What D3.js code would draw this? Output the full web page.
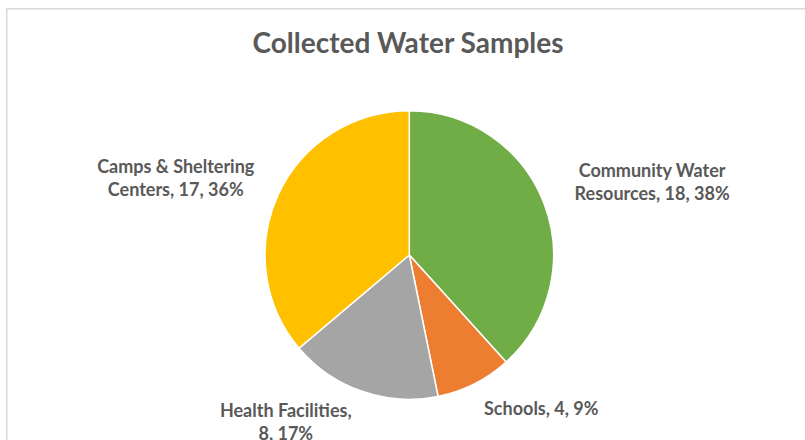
<!DOCTYPE html>
<html>
<head>
<meta charset="utf-8">
<script src="https://cdn.jsdelivr.net/npm/d3@7"></script>
<style>
  html, body { margin: 0; padding: 0; background: #fff; }
  svg { display: block; }
</style>
</head>
<body>
<svg id="chart" width="805" height="440"></svg>
<script>
// ---- data ----
const categories = ["Community Water Resources", "Schools", "Health Facilities", "Camps & Sheltering Centers"];
const values = [18, 4, 8, 17];
const percents = ["38%", "9%", "17%", "36%"];
const labelLines = [
  ["Community Water", "Resources, 18, 38%"],
  ["Schools, 4, 9%"],
  ["Health Facilities,", "8, 17%"],
  ["Camps & Sheltering", "Centers, 17, 36%"]
];
const colors = ["#70AD47", "#ED7D31", "#A5A5A5", "#FFC000"];
const title = "Collected Water Samples";

// ---- layout ----
const W = 805, H = 440;
const cx = 409.3, cy = 255, R = 144.3;
const labelGap = 20;
const labelNudge = [[17, -5], [32, -3], [-48, -10], [-13, 2]];
const lineH = 23;
const font = "Lato, 'Open Sans', sans-serif";
const textColor = "#595959";

const svg = d3.select("#chart");

svg.append("rect")
  .attr("x", 6.75).attr("y", 8.75)
  .attr("width", W + 20).attr("height", H + 20)
  .attr("fill", "#fff")
  .attr("stroke", "#D9D9D9").attr("stroke-width", 1.5);

svg.append("text")
  .attr("x", 408).attr("y", 53)
  .attr("text-anchor", "middle")
  .attr("font-family", font).attr("font-weight", "bold")
  .attr("font-size", 28).attr("fill", textColor)
  .text(title);

const data = categories.map((c, i) => ({ cat: c, value: values[i], i }));
const pie = d3.pie().value(d => d.value).sort(null);
const arcs = pie(data);
const arc = d3.arc().innerRadius(0).outerRadius(R);

const g = svg.append("g").attr("transform", `translate(${cx},${cy})`);
g.selectAll("path").data(arcs).join("path")
  .attr("d", arc)
  .attr("fill", d => colors[d.data.i])
  .attr("stroke", "#fff").attr("stroke-width", 1.5)
  .attr("stroke-linejoin", "round");

// labels (outside end)
arcs.forEach((d, k) => {
  const a = (d.startAngle + d.endAngle) / 2;
  const s = Math.sin(a), c = Math.cos(a);
  const lines = labelLines[d.data.i];
  const t = g.append("text")
    .attr("text-anchor", "middle")
    .attr("font-family", font).attr("font-weight", "bold")
    .attr("font-size", 18).attr("fill", textColor);
  lines.forEach((ln, j) => {
    t.append("tspan")
      .attr("x", 0)
      .attr("y", (j - (lines.length - 1) / 2) * lineH)
      .attr("dy", "0.35em")
      .text(ln);
  });
  const bb = t.node().getBBox();
  const hw = bb.width / 2, hh = lines.length * lineH / 2;
  const px = (R + labelGap) * s + hw * s + labelNudge[d.data.i][0];
  const py = -(R + labelGap) * c - hh * c + labelNudge[d.data.i][1];
  t.attr("transform", `translate(${px},${py})`);
});
</script>
</body>
</html>
